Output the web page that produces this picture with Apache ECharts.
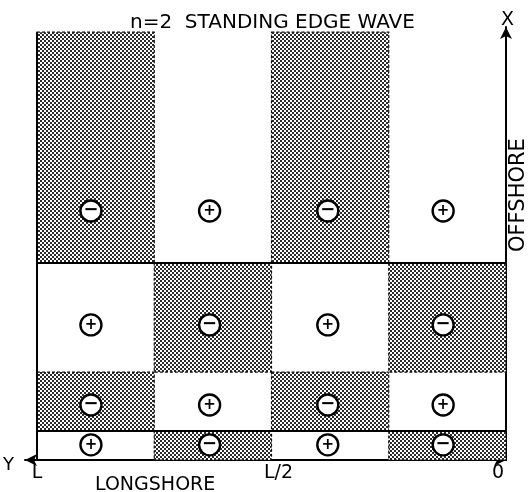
<!DOCTYPE html>
<html><head><meta charset="utf-8">
<script src="https://cdn.jsdelivr.net/npm/echarts@6/dist/echarts.min.js"></script>
<style>html,body{margin:0;padding:0;background:#fff}#c{width:530px;height:492px}</style>
</head><body><div id="c"></div>
<script>
// Longshore positions (fraction of L, 0 at right, L at left) of cell edges
const colEdges = [1, 0.75, 0.5, 0.25, 0];
// Offshore edges (nondimensional, bottom = shoreline)
const rowEdges = [0, 0.067, 0.203, 0.455, 0.988];
// Signs per row (bottom to top), per column (left to right)
const rowSigns = [
  ['+', '−', '+', '−'],
  ['−', '+', '−', '+'],
  ['+', '−', '+', '−'],
  ['−', '+', '−', '+']
];
// Circle marker positions
const circleX = [0.885, 0.632, 0.38, 0.134];
const circleY = [0.035, 0.127, 0.312, 0.575];
// Solid nodal lines (offshore values) and left boundary
const solidRows = [0.067, 0.455];
const tickValues = [1, 0.5, 0];
const tickLabels = ['L', 'L/2', '0'];

const FONT = 'DejaVu Sans';

// stipple pattern
const pc = document.createElement('canvas');
pc.width = 4; pc.height = 4;
const pctx = pc.getContext('2d');
pctx.fillStyle = '#fff'; pctx.fillRect(0,0,4,4);
pctx.fillStyle = '#2a2a2a';
pctx.fillRect(0,0,2,2); pctx.fillRect(2,2,2,2);
const pattern = {image: pc, repeat: 'repeat'};

const cells = [];
const marks = [];
for (let i = 0; i < 4; i++) {
  for (let j = 0; j < 4; j++) {
    cells.push([colEdges[j], colEdges[j+1], rowEdges[i], rowEdges[i+1], rowSigns[i][j] === '−' ? 1 : 0]);
    marks.push([circleX[j], circleY[i], rowSigns[i][j]]);
  }
}
const lines = solidRows.map(v => [1, v, 0, v]);
lines.push([1, 0, 1, rowEdges[4]]);

const chart = echarts.init(document.getElementById('c'), null, {renderer: 'canvas'});
chart.setOption({
  animation: false,
  backgroundColor: '#fff',
  grid: {left: 25, right: 24, top: 27, bottom: 32},
  xAxis: {
    type: 'value', inverse: true, min: 0, max: 1.0256,
    splitLine: {show: false}, axisTick: {show: false},
    axisLine: {lineStyle: {color: '#000', width: 2}, symbol: ['arrow', 'arrow'], symbolSize: [9, 12]},
    axisLabel: {
      customValues: tickValues, color: '#000', fontFamily: FONT, fontSize: 19, margin: 4,
      formatter: v => {
        const k = tickValues.indexOf(v);
        if (k === 1) return '{m|' + tickLabels[k] + '}';
        if (k === 2) return '{r|' + tickLabels[k] + '}';
        return k >= 0 ? tickLabels[k] : '';
      },
      rich: {
        m: {fontFamily: FONT, fontSize: 19, color: '#000', padding: [0, 0, 0, 14]},
        r: {fontFamily: FONT, fontSize: 19, color: '#000', padding: [0, 16, 0, 0]}
      }
    }
  },
  yAxis: {
    type: 'value', min: 0, max: 1, position: 'right',
    splitLine: {show: false}, axisTick: {show: false}, axisLabel: {show: false},
    axisLine: {onZero: false, lineStyle: {color: '#000', width: 2}, symbol: ['none', 'arrow'], symbolSize: [9, 12]}
  },
  series: [
    {
      type: 'custom', data: cells, z: 1,
      renderItem: (params, api) => {
        const p0 = api.coord([api.value(0), api.value(3)]);
        const p1 = api.coord([api.value(1), api.value(2)]);
        if (!api.value(4)) return null;
        return {
          type: 'rect',
          shape: {x: p0[0], y: p0[1], width: p1[0] - p0[0], height: p1[1] - p0[1]},
          style: {fill: pattern, stroke: '#111', lineWidth: 1.2, lineDash: [3, 2]}
        };
      }
    },
    {
      type: 'custom', data: lines, z: 2,
      renderItem: (params, api) => {
        const a = api.coord([api.value(0), api.value(1)]);
        const b = api.coord([api.value(2), api.value(3)]);
        return {type: 'line', shape: {x1: a[0], y1: a[1], x2: b[0], y2: b[1]},
          style: {stroke: '#000', lineWidth: 2}};
      }
    },
    {
      type: 'custom', data: marks, z: 3,
      renderItem: (params, api) => {
        const c = api.coord([api.value(0), api.value(1)]);
        const s = marks[params.dataIndex][2];
        return {
          type: 'group',
          children: [
            {type: 'circle', shape: {cx: c[0], cy: c[1], r: 10.5},
              style: {fill: '#fff', stroke: '#000', lineWidth: 2.4}},
            {type: 'text', x: c[0], y: c[1] + (s === '+' ? 0.5 : -0.5),
              style: {text: s, fontFamily: FONT, fontWeight: 'bold',
                fontSize: s === '+' ? 15 : 18, fill: '#000', align: 'center', verticalAlign: 'middle'}}
          ]
        };
      }
    }
  ],
  graphic: [
    {type: 'text', left: 130, top: 13, style: {text: 'n=2  STANDING EDGE WAVE', fontFamily: FONT, fontSize: 20, fill: '#000'}},
    {type: 'text', left: 501, top: 11, style: {text: 'X', fontFamily: FONT, fontSize: 19, fill: '#000'}},
    {type: 'text', left: 3, top: 456, style: {text: 'Y', fontFamily: FONT, fontSize: 18, fill: '#000'}},
    {type: 'text', left: 95, top: 476, style: {text: 'LONGSHORE', fontFamily: FONT, fontSize: 19, fill: '#000'}},
    {type: 'text', x: 508, y: 252, rotation: Math.PI / 2,
      style: {text: 'OFFSHORE', fontFamily: FONT, fontSize: 21, fill: '#000'}}
  ]
});
</script></body></html>
